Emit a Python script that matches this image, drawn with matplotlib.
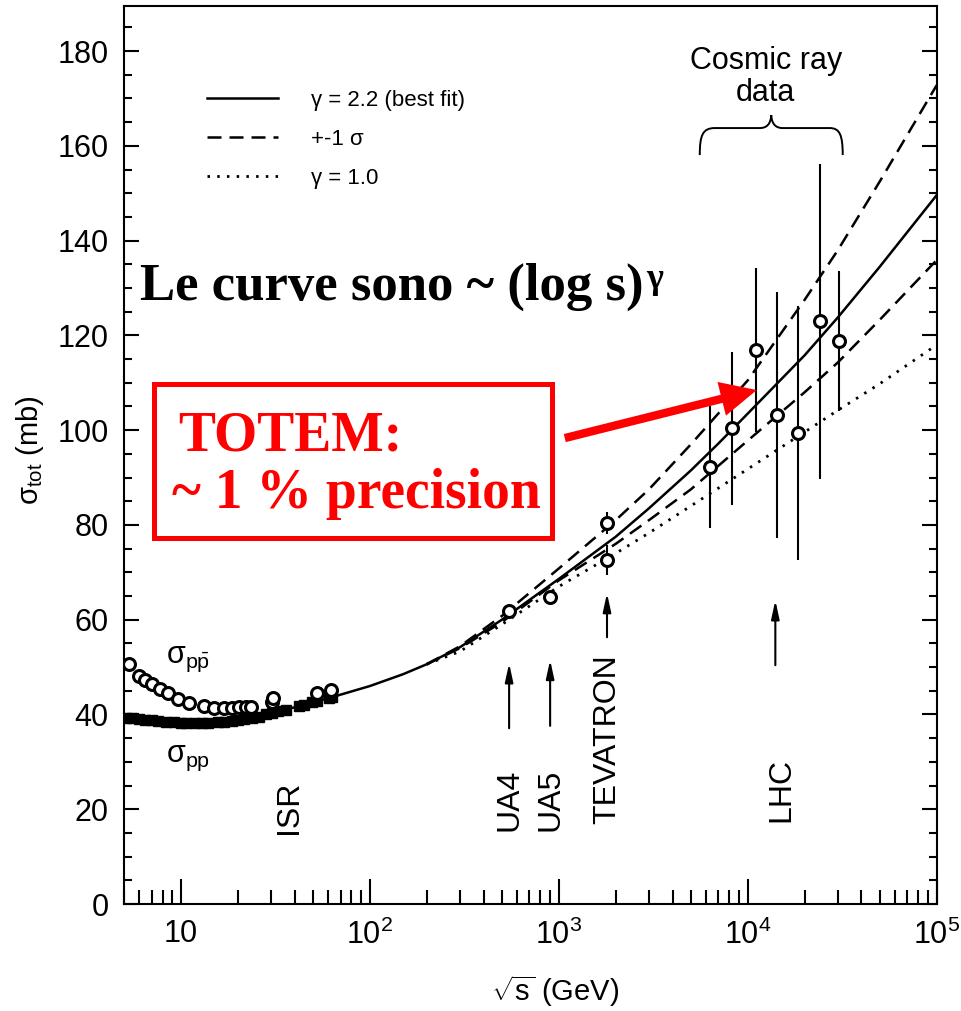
import matplotlib
matplotlib.use("Agg")
import matplotlib.pyplot as plt
from matplotlib.ticker import FixedLocator, MultipleLocator, NullFormatter
from matplotlib.patches import Rectangle, PathPatch
from matplotlib.path import Path

plt.rcParams['font.family'] = ['Liberation Sans', 'DejaVu Sans']
plt.rcParams['mathtext.fontset'] = 'custom'
plt.rcParams['mathtext.rm'] = 'Liberation Sans'
plt.rcParams['mathtext.it'] = 'Liberation Sans:italic'
plt.rcParams['mathtext.bf'] = 'Liberation Sans:bold'

# fits: sqrt(s) [GeV] -> sigma_tot [mb]
fit_x = [25, 30, 40, 60, 100, 150, 200, 300, 500, 1000, 2000, 3000, 5000, 7000,
         10000, 20000, 30000, 50000, 100000]
fit_best = [39.8, 40.5, 41.5, 43.4, 46.0, 48.5, 50.6, 54.2, 60.0, 68.6, 77.5,
            83.5, 91.5, 97.2, 103.5, 115.8, 123.8, 134.5, 149.6]
band_x = [200, 300, 500, 1000, 2000, 3000, 5000, 10000, 20000, 30000, 50000, 100000]
fit_hi = [50.6, 54.4, 60.8, 70.8, 81.0, 87.5, 97.0, 110.5, 127.5, 138.0, 152.5, 172.8]
fit_lo = [50.6, 54.0, 59.5, 68.3, 76.0, 81.0, 87.5, 97.8, 108.0, 114.3, 123.3, 135.9]
fit_g1 = [50.6, 53.3, 59.0, 67.0, 74.0, 78.3, 84.0, 91.8, 99.6, 104.2, 109.8, 118.0]

# accelerator data
pp_x = [5.1, 5.5, 6.0, 6.5, 7.0, 7.6, 8.3, 9.2, 10.0, 10.6, 11.9, 13.0, 13.9, 15.8,
        17.0, 18.6, 20.0, 21.5, 23.7, 25.8, 28.1, 30.2, 32.8, 35.8, 42.0, 45.0,
        49.3, 52.8, 60.8, 62.7]
pp_y = [39.3, 39.2, 39.0, 38.9, 38.8, 38.7, 38.5, 38.4, 38.3, 38.2, 38.2, 38.2, 38.2,
        38.4, 38.5, 38.7, 38.8, 39.0, 39.3, 39.5, 40.0, 40.3, 40.7, 41.0, 41.7, 42.0,
        42.6, 42.9, 43.5, 43.6]
ppbar_x = [5.3, 6.0, 6.5, 7.0, 7.8, 8.6, 9.7, 11.0, 13.2, 14.9, 16.9, 18.6, 20.3,
           22.1, 23.5, 30.4, 30.6, 52.6, 62.3]
ppbar_y = [50.6, 48.1, 47.3, 46.4, 45.4, 44.5, 43.3, 42.4, 41.8, 41.4, 41.4, 41.4,
           41.6, 41.6, 41.6, 42.6, 43.5, 44.5, 45.1]
coll_x = [546, 900, 1800, 1800]
coll_y = [61.8, 64.8, 80.4, 72.6]
coll_err = [1.5, 0.7, 2.3, 3.1]

# cosmic ray data
cr_x = [6300, 8250, 11050, 14300, 18500, 24150, 30500]
cr_y = [92.2, 100.4, 116.9, 103.2, 99.4, 123.0, 118.8]
cr_err = [12.9, 16.2, 17.3, 26.0, 26.8, 33.2, 14.8]

# machine labels: (text, label x, label y, arrow x, arrow bottom, arrow top)
machines = [("ISR", 37.5, 20.5, None, None, None),
            ("UA4", 546, 21.9, 546, 37.1, 50.8),
            ("UA5", 900, 21.9, 900, 37.6, 51.5),
            ("TEVATRON", 1800, 34.8, 1800, 56.3, 65.6),
            ("LHC", 15000, 24.1, 14000, 50.4, 64.1)]

fig = plt.figure(figsize=(9.61, 10.11), dpi=100)
ax = fig.add_axes([0.1290, 0.1058, 0.8457, 0.8882])
ax.set_xscale('log')
ax.set_xlim(5, 1e5)
ax.set_ylim(0, 189.5)

lw = 1.8
ax.plot(fit_x, fit_best, color='black', lw=lw, label=u"\u03b3 = 2.2 (best fit)", zorder=2)
ax.plot(band_x, fit_hi, color='black', lw=lw, ls=(0, (5.6, 3.2)), label=u"+-1 \u03c3", zorder=2)
ax.plot(band_x, fit_lo, color='black', lw=lw, ls=(0, (5.6, 3.2)), zorder=2)
ax.plot(band_x, fit_g1, color='black', lw=2.0, ls=(0, (0.9, 2.6)), label=u"\u03b3 = 1.0", zorder=2)

mk = dict(ms=8.6, mfc='white', mec='black', mew=2.2)
ax.plot(pp_x, pp_y, ls='none', marker='s', ms=6.5, color='black', zorder=3)
ax.plot(ppbar_x, ppbar_y, ls='none', marker='o', zorder=4, **mk)
ax.errorbar(coll_x, coll_y, yerr=coll_err, fmt='o', ecolor='black', elinewidth=1.5,
            capsize=0, zorder=4, **mk)
ax.errorbar(cr_x, cr_y, yerr=cr_err, fmt='o', ecolor='black', elinewidth=1.5,
            capsize=0, zorder=4, **mk)

for name, tx, ty, axx, a0, a1 in machines:
    ax.text(tx, ty, name, rotation=90, ha='center', va='center', fontsize=23)
    if axx is not None:
        ax.annotate('', xy=(axx, a1), xytext=(axx, a0),
                    arrowprops=dict(arrowstyle='-|>,head_length=0.55,head_width=0.12',
                                    color='black', lw=1.5, mutation_scale=20,
                                    shrinkA=0, shrinkB=0))

ax.text(8.3, 50.9, r'$\mathrm{\sigma_{p\bar{p}}}$', fontsize=22, ha='left', va='baseline')
ax.text(8.3, 30.0, r'$\mathrm{\sigma_{pp}}$', fontsize=22, ha='left', va='baseline')

# axes styling
ax.xaxis.set_major_locator(FixedLocator([10, 100, 1000, 10000, 100000]))
ax.set_xticklabels(['10', r'$10^{2}$', r'$10^{3}$', r'$10^{4}$', r'$10^{5}$'])
minor = [m * 10 ** k for k in range(0, 5) for m in range(2, 10) if 5 <= m * 10 ** k < 1e5]
ax.xaxis.set_minor_locator(FixedLocator(minor))
ax.xaxis.set_minor_formatter(NullFormatter())
ax.yaxis.set_major_locator(MultipleLocator(20))
ax.yaxis.set_minor_locator(MultipleLocator(5))
for s in ax.spines.values():
    s.set_linewidth(1.5)
ax.tick_params(axis='both', which='both', direction='in', width=1.5, labelsize=22)
ax.tick_params(axis='x', which='major', length=18, pad=11)
ax.tick_params(axis='x', which='minor', length=10)
ax.tick_params(axis='y', which='major', length=11, pad=11, right=True)
ax.tick_params(axis='y', which='minor', length=5.5, right=True)

ax.set_ylabel(r'$\mathrm{\sigma_{tot}}$ (mb)', fontsize=21)
ax.yaxis.label.set_va('center')
ax.yaxis.set_label_coords(-0.1156, 0.506)
ax.set_xlabel(r'$\sqrt{\mathrm{s}}$ (GeV)', fontsize=21)
ax.xaxis.label.set_va('center')
ax.xaxis.set_label_coords(0.531, -0.097)

leg = ax.legend(loc='upper left', bbox_to_anchor=(0.102, 0.9065), frameon=False, fontsize=16,
                handlelength=3.2, handletextpad=1.5, labelspacing=0.8, borderpad=0,
                borderaxespad=0)

ax.text(0.7897, 0.921, "Cosmic ray\ndata", transform=ax.transAxes, ha='center', va='center',
        fontsize=22, linespacing=1.05)

# curly brace above cosmic ray data
def axf(px, py):
    return ((px - 124) / 813.0, (904 - py) / 898.0)

brace = [(700, 155), (700, 135), (703, 128), (715, 128), (760, 128),
         (767, 128), (771, 124), (771.5, 115), (772, 124), (776, 128), (783, 128),
         (830, 128), (840, 128), (843, 135), (843, 155)]
codes = [Path.MOVETO, Path.CURVE4, Path.CURVE4, Path.CURVE4, Path.LINETO,
         Path.CURVE4, Path.CURVE4, Path.CURVE4, Path.CURVE4, Path.CURVE4, Path.CURVE4,
         Path.LINETO, Path.CURVE4, Path.CURVE4, Path.CURVE4]
ax.add_patch(PathPatch(Path([axf(*p) for p in brace], codes), fill=False, lw=1.4,
                       edgecolor='black', transform=ax.transAxes, clip_on=False))

# overlay annotations
t = ax.text(0.0197, 0.6726, "Le curve sono ~ (log s)", transform=ax.transAxes,
            fontsize=38, fontweight='bold', family='Liberation Serif', va='baseline')
ax.annotate(u"\u03b3", xy=(1, 1), xycoords=t, xytext=(2, 0), textcoords='offset points',
            fontsize=26, fontweight='bold', family='Liberation Serif', ha='left', va='top')

ax.add_patch(Rectangle((0.0375, 0.408), 0.4895, 0.1716, transform=ax.transAxes, fill=False,
                       edgecolor='red', lw=3.6, zorder=5))
ax.text(0.0664, 0.5056, "TOTEM:", transform=ax.transAxes, color='red', fontsize=40,
        fontweight='bold', family='Liberation Serif', va='baseline')
ax.text(0.059, 0.441, "~ 1 % precision", transform=ax.transAxes, color='red', fontsize=40,
        fontweight='bold', family='Liberation Serif', va='baseline')
ax.annotate('', xy=(0.7786, 0.5724), xycoords='axes fraction', xytext=(0.5424, 0.5189),
            textcoords='axes fraction',
            arrowprops=dict(facecolor='red', edgecolor='none', width=6, headwidth=25,
                            headlength=26, shrink=0), zorder=6)

fig.savefig("out.png", dpi=100)
